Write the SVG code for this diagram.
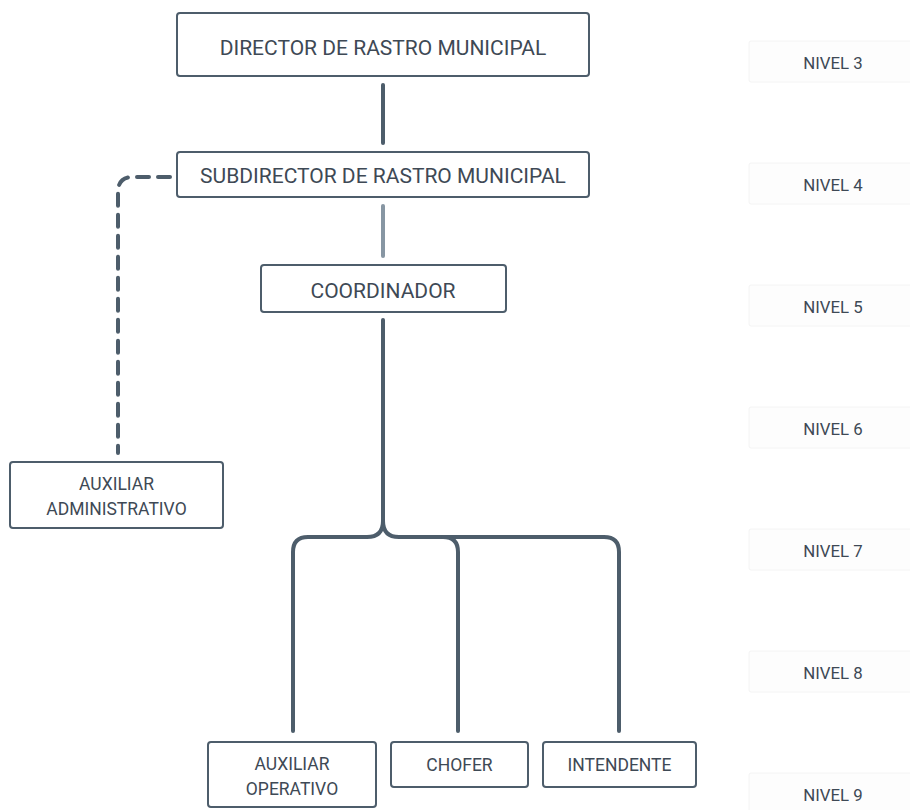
<svg xmlns="http://www.w3.org/2000/svg" width="910" height="810" viewBox="0 0 910 810">
  <style>
    .box { fill: #ffffff; stroke: #4d5d6b; stroke-width: 2; }
    .lvl { fill: #fdfdfd; stroke: #f4f4f4; stroke-width: 1; }
    .t { font-family: Roboto, "Liberation Sans", sans-serif; fill: #3e4955; text-anchor: middle; }
    .big { font-size: 21px; }
    .small { font-size: 17.5px; }
    .lvlt { font-family: Roboto, "Liberation Sans", sans-serif; font-size: 16.8px; fill: #3e4955; text-anchor: middle; }
    .wire { fill: none; stroke: #4d5d6b; stroke-width: 4; stroke-linecap: round; }
    .light { stroke: #8796a3; }
    .dash { stroke-dasharray: 12 9; }
  </style>
  <rect width="910" height="810" fill="#ffffff"/>

  <!-- level markers -->
  <g id="levels">
    <g id="nivel-3"><rect class="lvl" x="749" y="41" width="170" height="41" rx="2"/><text class="lvlt" x="833" y="69">NIVEL 3</text></g>
    <g id="nivel-4"><rect class="lvl" x="749" y="163" width="170" height="41" rx="2"/><text class="lvlt" x="833" y="191">NIVEL 4</text></g>
    <g id="nivel-5"><rect class="lvl" x="749" y="285" width="170" height="41" rx="2"/><text class="lvlt" x="833" y="313">NIVEL 5</text></g>
    <g id="nivel-6"><rect class="lvl" x="749" y="407" width="170" height="41" rx="2"/><text class="lvlt" x="833" y="435">NIVEL 6</text></g>
    <g id="nivel-7"><rect class="lvl" x="749" y="529" width="170" height="41" rx="2"/><text class="lvlt" x="833" y="557">NIVEL 7</text></g>
    <g id="nivel-8"><rect class="lvl" x="749" y="651" width="170" height="41" rx="2"/><text class="lvlt" x="833" y="679">NIVEL 8</text></g>
    <g id="nivel-9"><rect class="lvl" x="749" y="773" width="170" height="41" rx="2"/><text class="lvlt" x="833" y="801">NIVEL 9</text></g>
  </g>

  <!-- connectors -->
  <g id="connectors">
    <path class="wire" d="M383,85 V143"/>
    <path class="wire light" d="M383,206 V256"/>
    <path class="wire" d="M383,320 V521 Q383,537 367,537 H308 Q293,537 293,552 V731"/>
    <path class="wire" d="M383,521 Q383,537 399,537 H604 Q619,537 619,552 V731"/>
    <path class="wire" d="M443,537 Q458,537 458,552 V731"/>
    <path class="wire dash" d="M170,177 H133 Q118,177 118,192 V453"/>
  </g>

  <!-- positions -->
  <g id="director">
    <rect class="box" x="177" y="13" width="412" height="63" rx="3"/>
    <text class="t big" x="383" y="54.5">DIRECTOR DE RASTRO MUNICIPAL</text>
  </g>
  <g id="subdirector">
    <rect class="box" x="177" y="152" width="412" height="45" rx="3"/>
    <text class="t big" x="383" y="182.5">SUBDIRECTOR DE RASTRO MUNICIPAL</text>
  </g>
  <g id="coordinador">
    <rect class="box" x="261" y="265" width="245" height="47" rx="3"/>
    <text class="t big" x="383" y="297.5">COORDINADOR</text>
  </g>
  <g id="auxiliar-administrativo">
    <rect class="box" x="10" y="462" width="213" height="66" rx="3"/>
    <text class="t small" x="116.5" y="489.5">AUXILIAR</text>
    <text class="t small" x="116.5" y="514.5">ADMINISTRATIVO</text>
  </g>
  <g id="auxiliar-operativo">
    <rect class="box" x="208" y="742" width="168" height="65" rx="3"/>
    <text class="t small" x="292" y="769.5">AUXILIAR</text>
    <text class="t small" x="292" y="794.5">OPERATIVO</text>
  </g>
  <g id="chofer">
    <rect class="box" x="391" y="742" width="137" height="45" rx="3"/>
    <text class="t small" x="459.5" y="771">CHOFER</text>
  </g>
  <g id="intendente">
    <rect class="box" x="543" y="742" width="153" height="45" rx="3"/>
    <text class="t small" x="619.5" y="771">INTENDENTE</text>
  </g>
</svg>
